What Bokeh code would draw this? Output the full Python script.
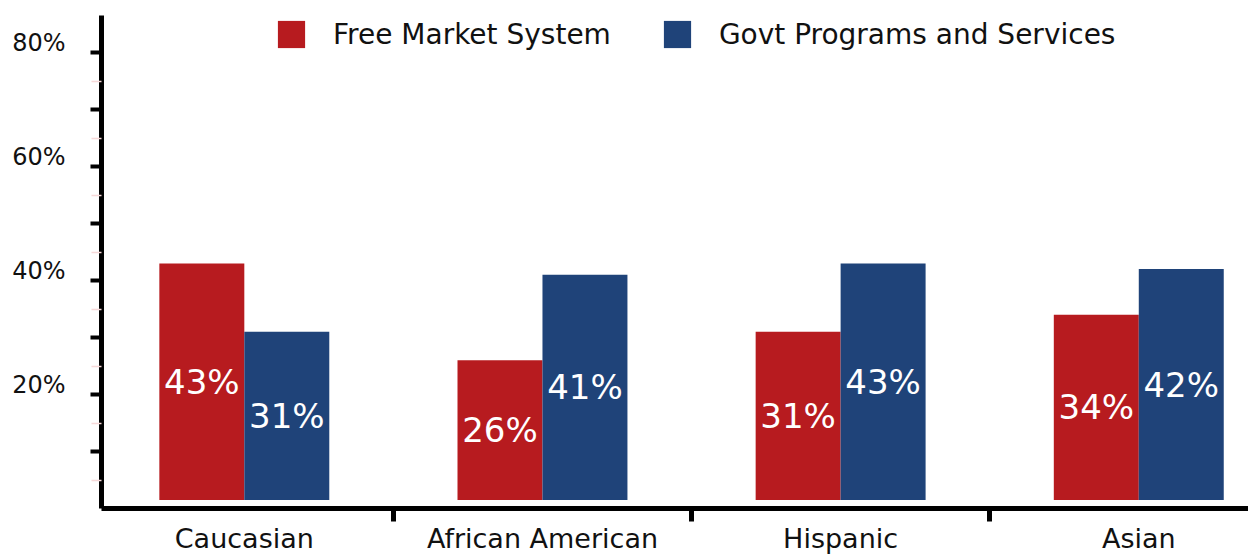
from bokeh.plotting import figure
from bokeh.models import ColumnDataSource, FixedTicker, Range1d
from bokeh.transform import dodge
from bokeh.core.properties import value
from bokeh.embed import file_html
from bokeh.resources import INLINE

# ---- data ----
categories = ["Caucasian", "African American", "Hispanic", "Asian"]
free_market = [43, 26, 31, 34]
govt_programs = [31, 41, 43, 42]
series_names = ["Free Market System", "Govt Programs and Services"]
y_ticks = [10, 20, 30, 40, 50, 60, 70, 80]
y_tick_labels = {10: "", 20: "20%", 30: "", 40: "40%", 50: "", 60: "60%", 70: "", 80: "80%"}
y_minor_ticks = [5, 15, 25, 35, 45, 55, 65, 75]

# ---- styles ----
RED = "#B71B1F"
BLUE = "#1F4379"
FONT = "DejaVu Sans"
BAR_W = 0.285
BASE = 1.5

pos = [i + 0.5 for i in range(len(categories))]
bounds = [i for i in range(1, len(categories))]

src = ColumnDataSource(dict(
    x=pos,
    cat=categories,
    free=free_market,
    govt=govt_programs,
    free_mid=[(BASE + v) / 2 for v in free_market],
    govt_mid=[(BASE + v) / 2 for v in govt_programs],
    free_lbl=[f"{v}%" for v in free_market],
    govt_lbl=[f"{v}%" for v in govt_programs],
))

p = figure(width=1248, height=556,
           x_range=Range1d(0.021, 3.868), y_range=Range1d(0, 86.5),
           output_backend="svg", toolbar_location=None,
           min_border_left=101, min_border_right=0,
           min_border_top=15, min_border_bottom=48)

p.vbar(x=dodge("x", -BAR_W / 2, range=p.x_range), top="free", bottom=BASE, width=BAR_W,
       source=src, fill_color=RED, line_color=None, legend_label=series_names[0])
p.vbar(x=dodge("x", BAR_W / 2, range=p.x_range), top="govt", bottom=BASE, width=BAR_W,
       source=src, fill_color=BLUE, line_color=None, legend_label=series_names[1])

p.text(x=dodge("x", -BAR_W / 2, range=p.x_range), y="free_mid", text="free_lbl", source=src,
       text_color="white", text_font=value(FONT), text_font_size="34px",
       text_align="center", text_baseline="middle")
p.text(x=dodge("x", BAR_W / 2, range=p.x_range), y="govt_mid", text="govt_lbl", source=src,
       text_color="white", text_font=value(FONT), text_font_size="34px",
       text_align="center", text_baseline="middle")

# grid/outline
p.grid.visible = False
p.outline_line_color = None

# x axis
xa = p.xaxis[0]
xa.ticker = FixedTicker(ticks=pos, minor_ticks=bounds)
xa.major_label_overrides = {x: c for x, c in zip(pos, categories)}
xa.major_tick_line_color = None
xa.major_tick_out = 0
xa.major_tick_in = 0
xa.minor_tick_out = 13
xa.minor_tick_in = 0
xa.minor_tick_line_width = 5
xa.minor_tick_line_color = "black"
xa.axis_line_width = 5
xa.axis_line_color = "black"
xa.major_label_standoff = 1
xa.major_label_text_font = FONT
xa.major_label_text_font_size = "27px"
xa.major_label_text_color = "#111111"

# y axis
ya = p.yaxis[0]
ya.ticker = FixedTicker(ticks=y_ticks, minor_ticks=y_minor_ticks)
ya.major_label_overrides = {k: (v + "\n" if v else "") for k, v in y_tick_labels.items()}
ya.major_label_text_line_height = 0.7
ya.major_tick_out = 11
ya.major_tick_in = 0
ya.major_tick_line_width = 4
ya.major_tick_line_color = "black"
ya.minor_tick_out = 10
ya.minor_tick_in = 0
ya.minor_tick_line_width = 1.5
ya.minor_tick_line_color = "#f6d8d8"
ya.axis_line_width = 5
ya.axis_line_color = "black"
ya.major_label_standoff = 25
ya.major_label_text_font = FONT
ya.major_label_text_font_size = "24px"
ya.major_label_text_color = "#111111"

# legend
lg = p.legend[0]
lg.location = (173, 457)
lg.orientation = "horizontal"
lg.label_text_font = FONT
lg.label_text_font_size = "28px"
lg.label_text_color = "#111111"
lg.label_standoff = 25
lg.spacing = 49
lg.glyph_width = 34
lg.glyph_height = 34
lg.padding = 0
lg.margin = 0
lg.border_line_color = None
lg.background_fill_alpha = 0

open("out.html", "w").write(file_html(p, INLINE))
